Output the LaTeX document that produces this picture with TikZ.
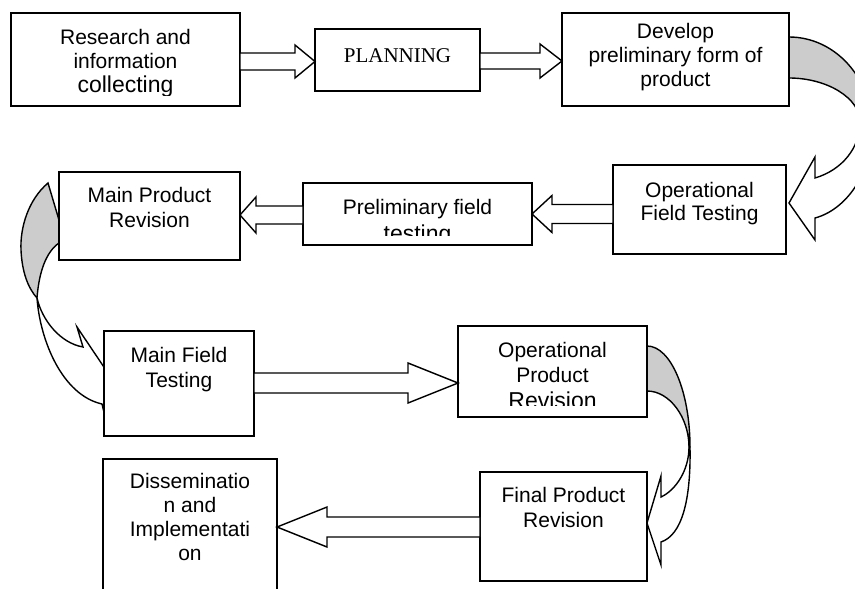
\documentclass[tikz,border=0pt]{standalone}
\usepackage{fontspec}
\setmainfont{Liberation Sans}
\newfontfamily\serifp{Liberation Serif}
\usetikzlibrary{calc}
\definecolor{shade}{gray}{0.8}
\newcommand\ml[1]{\begin{tabular}[t]{@{}c@{}}#1\end{tabular}}
\newcommand\largerline{\fontsize{23}{24}\selectfont}
% #1 tail anchor, #2 tip anchor, #3 y centre (px), #4 shaft half, #5 head half, #6 signed head length
\newcommand\hblock[6]{%
  \draw[blockarrow] let \p1=(#1), \p2=(#2) in
    (\x1,{-(#3-#4)*1pt}) -- ({\x2-(#6)*1pt},{-(#3-#4)*1pt}) -- ({\x2-(#6)*1pt},{-(#3-#5)*1pt})
    -- (\x2,{-(#3)*1pt}) -- ({\x2-(#6)*1pt},{-(#3+#5)*1pt}) -- ({\x2-(#6)*1pt},{-(#3+#4)*1pt})
    -- (\x1,{-(#3+#4)*1pt}) -- cycle;}
\begin{document}
\begin{tikzpicture}[x=1pt,y=-1pt,
  box/.style={draw, line width=1.7pt, fill=white, rectangle, inner sep=0pt, outer sep=0pt},
  blockarrow/.style={draw, line width=1.4pt, fill=white, line join=miter},
  curvearrow/.style={draw, line width=1.4pt, line join=miter},
  txt/.style={anchor=base, inner sep=0pt, font=\fontsize{21}{24}\selectfont}]
\useasboundingbox (0,0) rectangle (855,589);
\begin{scope}
\clip (0,0) rectangle (855,589);
% curved arrows (under the boxes)
% Develop -> Operational Field Testing
\filldraw[curvearrow, fill=shade] (789,37) .. controls (835,37) and (872,78) .. (872,128)
  -- (860,122) .. controls (860,98) and (827,78) .. (789,78) -- cycle;
\filldraw[curvearrow, fill=white] (872,128) .. controls (872,175) and (845,210) .. (815,218)
  -- (815,240) -- (789,203) -- (815,157) -- (815,178) .. controls (842,170) and (860,148) .. (860,122) -- cycle;
% Operational Product Revision -> Final Product Revision
\filldraw[curvearrow, fill=shade] (647,346) .. controls (671,346) and (690,392) .. (690,447)
  -- (689,447) .. controls (689,418) and (670,391) .. (647,391) -- cycle;
\filldraw[curvearrow, fill=white] (690,447) .. controls (691,500) and (682,535) .. (661,542)
  -- (661,565) -- (647,523) -- (661,476) -- (661,497) .. controls (676,490) and (689,470) .. (689,447) -- cycle;
% Main Product Revision -> Main Field Testing
\filldraw[curvearrow, fill=shade] (48,183) .. controls (28,200) and (20,228) .. (21,250)
  .. controls (22,272) and (28,288) .. (37,298) .. controls (39,272) and (46,252) .. (59,243) -- (59,220) -- cycle;
\filldraw[curvearrow, fill=white] (37,298) .. controls (42,320) and (60,343) .. (83,347)
  -- (77,327) -- (114,382) -- (107,425) -- (102,404) .. controls (62,395) and (40,340) .. (37,298) -- cycle;
% boxes
\node[box, minimum width=229, minimum height=93] (b1) at (125.5,59.5) {};
\node[box, minimum width=165, minimum height=62] (b2) at (397.5,60) {};
\node[box, minimum width=227, minimum height=93] (b3) at (675.5,59.5) {};
\node[box, minimum width=173, minimum height=89] (b4) at (699.5,209.5) {};
\node[box, minimum width=229, minimum height=62] (b5) at (417.5,214) {};
\node[box, minimum width=181, minimum height=88] (b6) at (149.5,216) {};
\node[box, minimum width=150, minimum height=105] (b7) at (179,383.5) {};
\node[box, minimum width=189, minimum height=91] (b8) at (552.5,371.5) {};
\node[box, minimum width=167, minimum height=109] (b9) at (563.5,526.5) {};
\node[box, minimum width=174, minimum height=141] (b10) at (190,529.5) {};
% block arrows
\hblock{b1.east}{b2.west}{61.5}{8.5}{16.5}{20}
\hblock{b2.east}{b3.west}{61}{8}{17}{22}
\hblock{b4.west}{b5.east}{214}{9.5}{18.5}{-20}
\hblock{b5.west}{b6.east}{215}{9}{18}{-16}
\hblock{b7.east}{b8.west}{383}{10}{20}{50}
\hblock{b9.west}{b10.east}{527}{10}{20}{-50}
% texts
\begin{scope}
\clip (11,13) rectangle (240,95.5);
\node[txt, font=\fontsize{21}{23.5}\selectfont] (t1) at (125.5,45) {\ml{Research and\\information\\\largerline collecting}};
\end{scope}
\node[txt] (t2) at (397.5,62) {\serifp PLANNING};
\node[txt] (t3) at (675.5,38) {\ml{Develop\\preliminary form of\\product}};
\node[txt, font=\fontsize{21}{23}\selectfont] (t4) at (699.5,197) {\ml{Operational\\Field Testing}};
\begin{scope}
\clip (303,183) rectangle (532,235);
\node[txt, font=\fontsize{21}{27}\selectfont] (t5) at (417.5,214) {\ml{Preliminary field\\\largerline testing}};
\end{scope}
\node[txt, font=\fontsize{21}{25}\selectfont] (t6) at (149.5,202) {\ml{Main Product\\Revision}};
\node[txt, font=\fontsize{21}{25}\selectfont] (t7) at (179,362) {\ml{Main Field\\Testing}};
\begin{scope}
\clip (458,326) rectangle (647,405.5);
\node[txt, font=\fontsize{21}{25.5}\selectfont] (t8) at (552.5,357) {\ml{Operational\\Product\\\largerline Revision}};
\end{scope}
\node[txt, font=\fontsize{21}{25}\selectfont] (t9) at (563.5,502) {\ml{Final Product\\Revision}};
\node[txt] (t10) at (190,488) {\ml{Disseminatio\\n and\\Implementati\\on}};
\end{scope}
\end{tikzpicture}
\end{document}
